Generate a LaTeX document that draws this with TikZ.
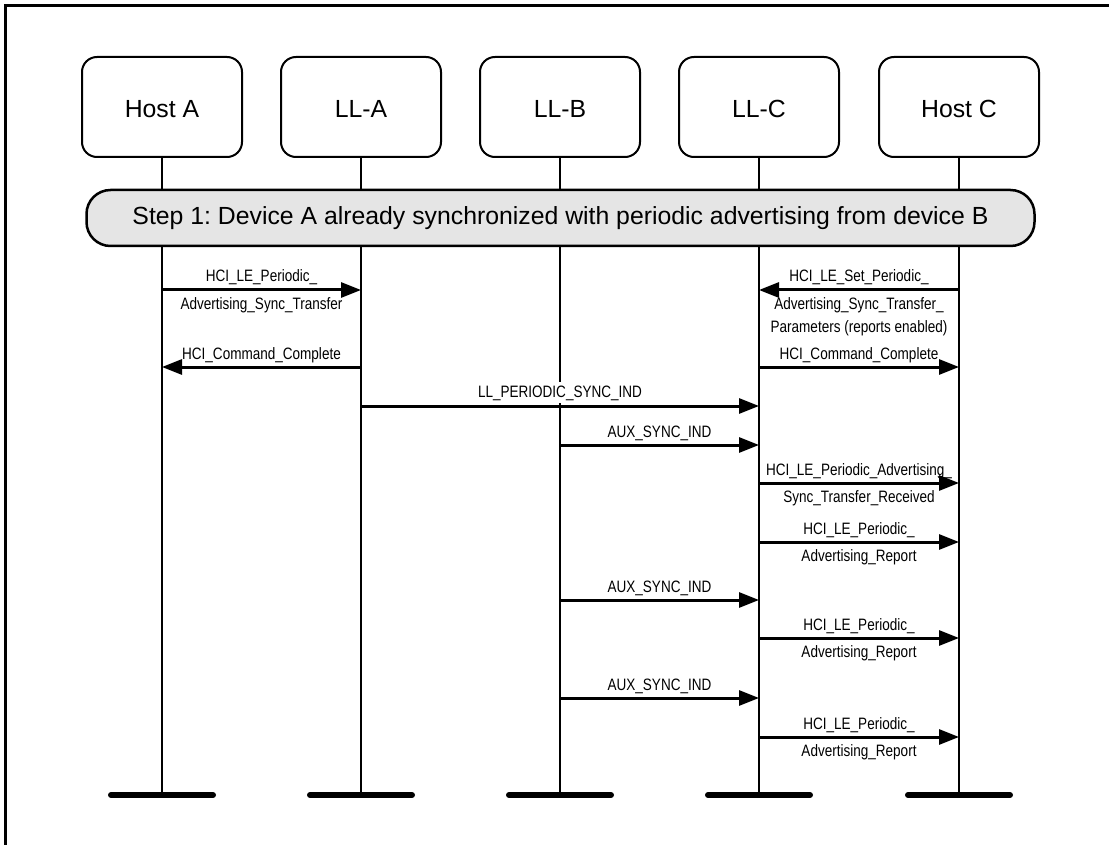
\documentclass[tikz,border=0pt]{standalone}
\usepackage{fontspec}
\setmainfont{Liberation Sans}
\newfontfamily\labfont[FakeStretch=0.82]{Liberation Sans}
\usetikzlibrary{arrows.meta,calc}
\frenchspacing
\tikzset{
  x=1pt,y=-1pt,
  actor/.style={draw,line width=2pt,rounded corners=15pt,minimum width=160pt,minimum height=100pt,inner sep=0pt},
  bigtext/.style={font=\fontsize{24.8}{28}\selectfont},
  lifeline/.style={line width=2pt},
  endbar/.style={line width=6pt,line cap=round},
  stepbox/.style={draw,line width=2.5pt,fill=black!10,rounded corners=24pt,minimum width=948pt,minimum height=56pt,inner sep=0pt,font=\fontsize{24.8}{28}\selectfont},
  msg/.style={line width=3pt,-{Triangle[length=20pt,width=15pt]}},
  lab/.style={font=\labfont\fontsize{16.5}{23}\selectfont,inner sep=0pt,anchor=base},
}
\newcommand{\msgarrow}[6]{%
  % #1 name, #2 from, #3 to, #4 y, #5 above, #6 below
  \coordinate (#1s) at (#2 |- 0,#4);
  \coordinate (#1e) at (#3 |- 0,#4);
  \draw[msg] (#1s) -- (#1e);
  \node[lab] (#1a) at ($(#1s)!0.5!(#1e)+(0,-8)$) {#5};
  \node[lab] (#1b) at ($(#1s)!0.5!(#1e)+(0,19)$) {#6};
}
\begin{document}
\begin{tikzpicture}
\useasboundingbox (0,0) rectangle (1109,845);
% frame
\draw[line width=2.5pt] (5.5,850) -- (5.5,5.3) -- (1115,5.3);
% actors
\node[actor] (ha) at (162,107) {};
\node[actor] (la) at (361,107) {};
\node[actor] (lb) at (560,107) {};
\node[actor] (lc) at (759,107) {};
\node[actor] (hc) at (959,107) {};
\foreach \n/\t in {ha/Host A,la/LL-A,lb/LL-B,lc/LL-C,hc/Host C}{
  \node[bigtext,anchor=base,inner sep=0pt] (\n t) at ($(\n)+(0,11)$) {\t};
  \coordinate (\n end) at (\n.south |- 0,795);
  \draw[lifeline] (\n.south) -- (\n end);
  \draw[endbar] ($(\n end)+(-51,0)$) -- ($(\n end)+(51,0)$);
}
% step
\node[stepbox] (step) at (560.5,218) {Step 1: Device A already synchronized with periodic advertising from device B};
% messages
\msgarrow{m1}{ha}{la}{290}{HCI\_LE\_Periodic\_}{Advertising\_Sync\_Transfer}
\msgarrow{m2}{hc}{lc}{290}{HCI\_LE\_Set\_Periodic\_}{Advertising\_Sync\_Transfer\_}
\node[lab] (m2c) at ($(m2s)!0.5!(m2e)+(0,42)$) {Parameters (reports enabled)};
\msgarrow{m3}{la}{ha}{367}{HCI\_Command\_Complete}{}
\msgarrow{m4}{lc}{hc}{367}{HCI\_Command\_Complete}{}
\coordinate (m5s) at (la |- 0,406);
\coordinate (m5e) at (lc |- 0,406);
\node[lab,fill=white,inner ysep=3pt] (m5a) at ($(m5s)!0.5!(m5e)+(0,-9)$) {LL\_PERIODIC\_SYNC\_IND};
\draw[msg] (m5s) -- (m5e);
\msgarrow{m6}{lb}{lc}{445}{AUX\_SYNC\_IND}{}
\msgarrow{m7}{lc}{hc}{483}{HCI\_LE\_Periodic\_Advertising\_}{Sync\_Transfer\_Received}
\msgarrow{m8}{lc}{hc}{542}{HCI\_LE\_Periodic\_}{Advertising\_Report}
\msgarrow{m9}{lb}{lc}{600}{AUX\_SYNC\_IND}{}
\msgarrow{m10}{lc}{hc}{638}{HCI\_LE\_Periodic\_}{Advertising\_Report}
\msgarrow{m11}{lb}{lc}{698}{AUX\_SYNC\_IND}{}
\msgarrow{m12}{lc}{hc}{737}{HCI\_LE\_Periodic\_}{Advertising\_Report}
\end{tikzpicture}
\end{document}
